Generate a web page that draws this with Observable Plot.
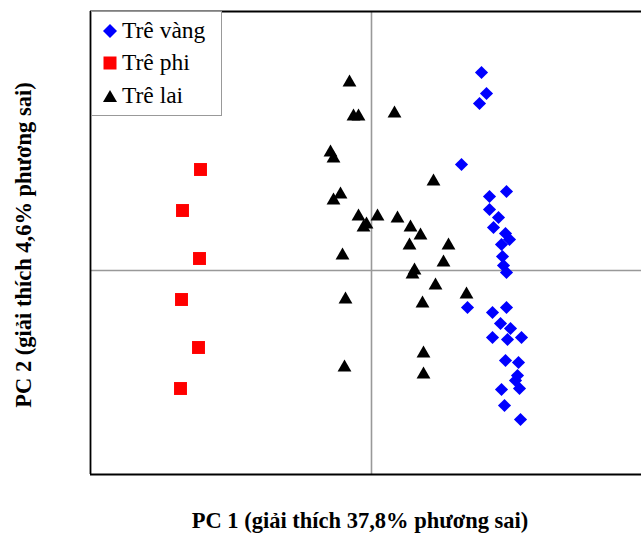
<!DOCTYPE html>
<html>
<head>
<meta charset="utf-8">
<script src="https://cdn.jsdelivr.net/npm/d3@7"></script>
<script src="https://cdn.jsdelivr.net/npm/@observablehq/plot@0.6"></script>
<style>
  html, body { margin: 0; padding: 0; background: #fff; }
  #wrap { position: relative; width: 641px; height: 536px; overflow: hidden; font-family: "Liberation Serif", "DejaVu Serif", serif; }
  #chart { position: absolute; left: 0; top: 0; }
  .xtitle { position: absolute; left: 90px; width: 540px; top: 508px; text-align: center; font-weight: bold; font-size: 22.5px; white-space: nowrap; }
  .ytitle { position: absolute; left: 24px; top: 245px; transform: translate(-50%, -50%) rotate(-90deg); font-weight: bold; font-size: 22.5px; white-space: nowrap; }
  .legend { position: absolute; left: 91px; top: 11px; width: 131px; height: 105px; border: 1.5px solid #999; background: #fff; box-sizing: border-box; }
  .item { position: absolute; left: 10px; display: flex; align-items: center; font-size: 23.5px; line-height: 1; }
  .item svg { margin-right: 4px; }
</style>
</head>
<body>
<div id="wrap">
  <div id="chart"></div>
  <div class="xtitle">PC 1 (giải thích 37,8% phương sai)</div>
  <div class="ytitle">PC 2 (giải thích 4,6% phương sai)</div>
  <div class="legend" id="legend"></div>
</div>
<script>
// Series names
const seriesNames = ["Trê vàng", "Trê phi", "Trê lai"];
const seriesColors = ["#0000ff", "#ff0000", "#000000"];

// Trê vàng (blue diamonds)
const vangX = [2.20, 2.30, 2.16, 1.80, 2.70, 2.36, 2.36, 2.54, 2.44, 2.68, 2.76, 2.60, 2.62, 2.64, 2.70, 1.92, 2.70, 2.42, 2.58, 2.78, 2.42, 2.72, 3.00, 2.68, 2.94, 2.92, 2.88, 2.60, 2.96, 2.66, 2.98];
const vangY = [3.96, 3.54, 3.34, 2.12, 1.58, 1.48, 1.22, 1.06, 0.86, 0.74, 0.62, 0.52, 0.28, 0.10, -0.04, -0.74, -0.74, -0.84, -1.06, -1.16, -1.34, -1.38, -1.34, -1.80, -1.84, -2.10, -2.20, -2.38, -2.36, -2.70, -2.98];

// Trê phi (red squares)
const phiX = [-3.42, -3.78, -3.44, -3.80, -3.46, -3.82];
const phiY = [2.02, 1.20, 0.24, -0.58, -1.54, -2.36];

// Trê lai (black triangles)
const laiX = [-0.44, -0.36, -0.26, 0.46, -0.82, -0.76, 1.24, -0.62, -0.76, -0.26, -0.16, -0.10, 0.12, 0.52, 0.78, 0.98, 0.76, 1.54, -0.58, 1.44, 0.86, 0.82, 1.28, 1.90, -0.52, 1.02, 1.04, -0.54, 1.04];
const laiY = [3.76, 3.08, 3.08, 3.14, 2.36, 2.24, 1.78, 1.52, 1.40, 1.08, 0.86, 0.92, 1.08, 1.04, 0.86, 0.70, 0.50, 0.50, 0.30, 0.16, 0.00, -0.08, -0.30, -0.48, -0.58, -0.66, -1.66, -1.94, -2.08];

const xDomain = [-5.62, 5.4];
const yDomain = [-4.08, 5.18];

const toRows = (xs, ys) => xs.map((x, i) => ({x, y: ys[i]}));
const vang = toRows(vangX, vangY);
const phi = toRows(phiX, phiY);
const lai = toRows(laiX, laiY);

const chart = Plot.plot({
  width: 641,
  height: 536,
  marginLeft: 90,
  marginRight: 0,
  marginTop: 11,
  marginBottom: 62,
  x: {domain: xDomain, axis: null},
  y: {domain: yDomain, axis: null},
  marks: [
    Plot.ruleX([0], {stroke: "#999", strokeWidth: 1.6}),
    Plot.ruleY([0], {stroke: "#999", strokeWidth: 1.6}),
    Plot.ruleX([xDomain[0]], {stroke: "#000", strokeWidth: 1.8}),
    Plot.ruleY([yDomain[0], yDomain[1]], {stroke: "#000", strokeWidth: 1.8}),
    Plot.dot(vang, {x: "x", y: "y", symbol: "diamond2", r: 5.9, fill: seriesColors[0]}),
    Plot.dot(phi, {x: "x", y: "y", symbol: "square", r: 7.3, fill: seriesColors[1]}),
    Plot.dot(lai, {x: "x", y: "y", symbol: "triangle2", r: 6.6, fill: seriesColors[2]})
  ]
});
document.getElementById("chart").appendChild(chart);

// Legend
const legend = document.getElementById("legend");
const symbolPaths = [
  "M8,1 L15,8 L8,15 L1,8 Z",
  "M1.5,1.5 H14.5 V14.5 H1.5 Z",
  "M8,2 L15,14 L1,14 Z"
];
const tops = [7, 39, 72];
seriesNames.forEach((name, i) => {
  const div = document.createElement("div");
  div.className = "item";
  div.style.top = tops[i] + "px";
  div.innerHTML = `<svg width="16" height="16" viewBox="0 0 16 16"><path d="${symbolPaths[i]}" fill="${seriesColors[i]}"/></svg><span>${name}</span>`;
  legend.appendChild(div);
});
</script>
</body>
</html>
